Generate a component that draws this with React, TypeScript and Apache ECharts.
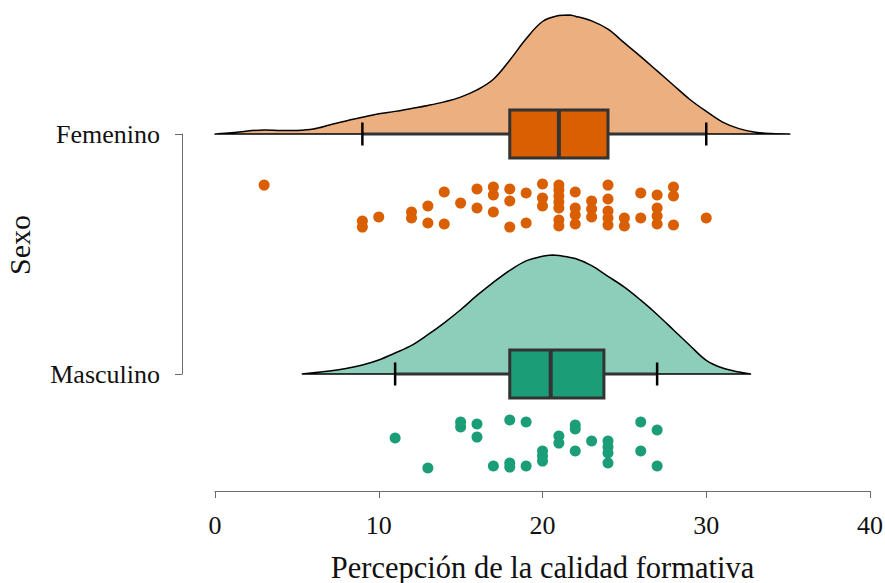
import React, { useEffect, useRef } from "react";
import * as echarts from "echarts";

// Groups on the y axis (numeric level for each group)
const groupNames = ["Masculino", "Femenino"];
const groupLevels = [1, 2];
const groupColors = ["#1B9E77", "#D95F02"];

// x axis ticks
const xTicks = [0, 10, 20, 30, 40];

// Five-number summaries: [lower whisker, Q1, median, Q3, upper whisker]
const femeninoBox = [9, 18, 21, 24, 30];
const masculinoBox = [11, 18, 20.5, 23.75, 27];

// Kernel density estimates: [score, density relative to the peak]
const femeninoDensity = [
  [0, 0], [1, 0.01], [2, 0.026], [3, 0.034], [4, 0.03], [5, 0.03], [6, 0.042],
  [7, 0.076], [8, 0.11], [9, 0.14], [10, 0.17], [11, 0.19], [12, 0.215],
  [13, 0.24], [14, 0.27], [15, 0.31], [16, 0.37], [17, 0.46], [18, 0.62],
  [19, 0.8], [20, 0.945], [21, 0.995], [21.6, 1], [22, 0.99], [23, 0.95],
  [24, 0.88], [25, 0.765], [26, 0.65], [27, 0.53], [28, 0.41], [29, 0.29],
  [30, 0.19], [31, 0.1], [32, 0.045], [33, 0.015], [34, 0.004], [35.1, 0],
];
const masculinoDensity = [
  [5.3, 0], [6, 0.01], [7, 0.025], [8, 0.046], [9, 0.076], [10, 0.118],
  [11, 0.176], [12, 0.24], [13, 0.33], [14, 0.43], [15, 0.54], [16, 0.66],
  [17, 0.77], [18, 0.87], [19, 0.95], [20, 0.99], [20.6, 1], [21, 0.995],
  [22, 0.97], [23, 0.91], [24, 0.82], [25, 0.73], [26, 0.62], [27, 0.5],
  [28, 0.37], [29, 0.24], [30, 0.115], [31, 0.05], [32, 0.017], [32.7, 0],
];

// Observations: [score, vertical jitter below the group level]
const femeninoPoints = [
  [3, 0.213], [9, 0.363], [9, 0.388], [10, 0.346], [12, 0.325], [12, 0.35],
  [13, 0.3], [13, 0.371], [14, 0.242], [14, 0.375], [15, 0.288],
  [16, 0.229], [16, 0.308], [17, 0.221], [17, 0.254], [17, 0.325],
  [18, 0.229], [18, 0.279], [18, 0.388], [19, 0.246], [19, 0.371],
  [20, 0.208], [20, 0.267], [20, 0.3],
  [21, 0.213], [21, 0.233], [21, 0.258], [21, 0.283], [21, 0.308], [21, 0.358], [21, 0.383],
  [22, 0.242], [22, 0.308], [22, 0.338], [22, 0.375],
  [23, 0.279], [23, 0.313], [23, 0.346],
  [24, 0.213], [24, 0.271], [24, 0.321], [24, 0.35], [24, 0.379],
  [25, 0.35], [25, 0.383], [26, 0.246], [26, 0.35],
  [27, 0.254], [27, 0.308], [27, 0.342], [27, 0.375],
  [28, 0.221], [28, 0.258], [28, 0.379], [30, 0.35],
];
const masculinoPoints = [
  [11, 0.267], [13, 0.392], [15, 0.2], [15, 0.221], [16, 0.208], [16, 0.263],
  [17, 0.383], [18, 0.192], [18, 0.371], [18, 0.388], [19, 0.2], [19, 0.383],
  [20, 0.321], [20, 0.342], [20, 0.363], [21, 0.258], [21, 0.288],
  [22, 0.213], [22, 0.229], [22, 0.321], [23, 0.279],
  [24, 0.279], [24, 0.304], [24, 0.329], [24, 0.371],
  [26, 0.2], [26, 0.321], [27, 0.233], [27, 0.383],
];

const densities = [masculinoDensity, femeninoDensity];
const boxes = [masculinoBox, femeninoBox];
const points = [masculinoPoints, femeninoPoints];

const CLOUD_HEIGHT = 0.496; // peak height of a half-violin, in y units
const BOX_HALF = 0.1;
const CAP_HALF = 0.048;
const FONT = "'Liberation Serif', 'Times New Roman', serif";

function cloudSeries(density: number[][], level: number, color: string) {
  return {
    type: "custom",
    coordinateSystem: "cartesian2d",
    silent: true,
    z: 1,
    data: [[density[0][0], level]],
    renderItem: (_params: any, api: any) => {
      const pts = density.map(([x, d]) => api.coord([x, level + d * CLOUD_HEIGHT]));
      const base = api.coord([0, level])[1];
      const top = api.coord([0, level + CLOUD_HEIGHT])[1];
      return {
        type: "polygon",
        shape: {
          points: pts,
          smooth: 0.35,
          smoothConstraint: [
            [pts[0][0], top],
            [pts[pts.length - 1][0], base],
          ],
        },
        style: {
          fill: echarts.color.modifyAlpha(color, 0.5),
          stroke: "#000",
          lineWidth: 1.5,
        },
      };
    },
  };
}

export default function App() {
  const ref = useRef<HTMLDivElement>(null);

  useEffect(() => {
    if (!ref.current) return;
    const chart = echarts.init(ref.current, undefined, { renderer: "svg" });

    const boxData = boxes.map((b, i) => [...b, groupLevels[i]]);

    const option: any = {
      animation: false,
      backgroundColor: "#ffffff",
      grid: { left: 215, right: 15, top: 134, bottom: 209, outerBoundsMode: "none", containLabel: false },
      xAxis: {
        type: "value",
        min: xTicks[0],
        max: xTicks[xTicks.length - 1],
        interval: 10,
        offset: 117,
        name: "Percepción de la calidad formativa",
        nameLocation: "middle",
        nameGap: 61,
        nameTextStyle: { fontFamily: FONT, fontSize: 30.5, color: "#111" },
        axisLine: { show: true, onZero: false, lineStyle: { color: "#6b6b6b", width: 1 } },
        axisTick: { show: true, length: 7, lineStyle: { color: "#6b6b6b", width: 1 } },
        axisLabel: { fontFamily: FONT, fontSize: 26, color: "#111", margin: 21 },
        splitLine: { show: false },
      },
      yAxis: {
        type: "value",
        min: 1,
        max: 2,
        interval: 1,
        offset: 33,
        name: "Sexo",
        nameLocation: "middle",
        nameRotate: 90,
        nameGap: 148,
        nameTextStyle: { fontFamily: FONT, fontSize: 30, color: "#111", padding: [0, 0, 0, 18] },
        axisLine: { show: true, onZero: false, lineStyle: { color: "#6b6b6b", width: 1 } },
        axisTick: { show: true, length: 7, lineStyle: { color: "#6b6b6b", width: 1 } },
        axisLabel: {
          fontFamily: FONT,
          fontSize: 26,
          color: "#111",
          margin: 22,
          formatter: (v: number) => {
            const i = groupLevels.indexOf(v);
            return i >= 0 ? groupNames[i] : "";
          },
        },
        splitLine: { show: false },
      },
      series: [
        ...densities.map((d, i) => cloudSeries(d, groupLevels[i], groupColors[i])),
        {
          type: "custom",
          coordinateSystem: "cartesian2d",
          silent: true,
          z: 2,
          encode: { x: [0, 1, 2, 3, 4], y: 5 },
          data: boxData,
          renderItem: (params: any, api: any) => {
            const lo = api.value(0);
            const q1 = api.value(1);
            const md = api.value(2);
            const q3 = api.value(3);
            const hi = api.value(4);
            const lv = api.value(5);
            const color = groupColors[params.dataIndex];
            const c = (x: number, dy = 0) => api.coord([x, lv + dy]);
            const [xLo, yMid] = c(lo);
            const [xHi] = c(hi);
            const [xQ1, yTop] = c(q1, BOX_HALF);
            const [xQ3, yBot] = c(q3, -BOX_HALF);
            const [xMd] = c(md);
            const capTop = c(lo, CAP_HALF)[1];
            const capBot = c(lo, -CAP_HALF)[1];
            const whisker = { stroke: "#333", lineWidth: 3 };
            const cap = { stroke: "#000", lineWidth: 2.5 };
            return {
              type: "group",
              children: [
                { type: "line", shape: { x1: xLo, y1: yMid, x2: xQ1, y2: yMid }, style: whisker },
                { type: "line", shape: { x1: xQ3, y1: yMid, x2: xHi, y2: yMid }, style: whisker },
                { type: "line", shape: { x1: xLo, y1: capTop, x2: xLo, y2: capBot }, style: cap },
                { type: "line", shape: { x1: xHi, y1: capTop, x2: xHi, y2: capBot }, style: cap },
                {
                  type: "rect",
                  shape: { x: xQ1, y: yTop, width: xQ3 - xQ1, height: yBot - yTop },
                  style: { fill: color, stroke: "#333", lineWidth: 3 },
                },
                { type: "line", shape: { x1: xMd, y1: yTop, x2: xMd, y2: yBot }, style: { stroke: "#333", lineWidth: 4 } },
              ],
            };
          },
        },
        ...points.map((pts, i) => ({
          type: "scatter",
          z: 3,
          clip: false,
          silent: true,
          symbol: "circle",
          symbolSize: 11,
          itemStyle: { color: groupColors[i], opacity: 1 },
          data: pts.map(([v, j]) => [v, groupLevels[i] - j]),
        })),
      ],
    };

    chart.setOption(option);
    return () => chart.dispose();
  }, []);

  return (
    <div
      ref={ref}
      style={{ position: "fixed", left: 0, top: 0, width: 885, height: 583, background: "#fff" }}
    />
  );
}
